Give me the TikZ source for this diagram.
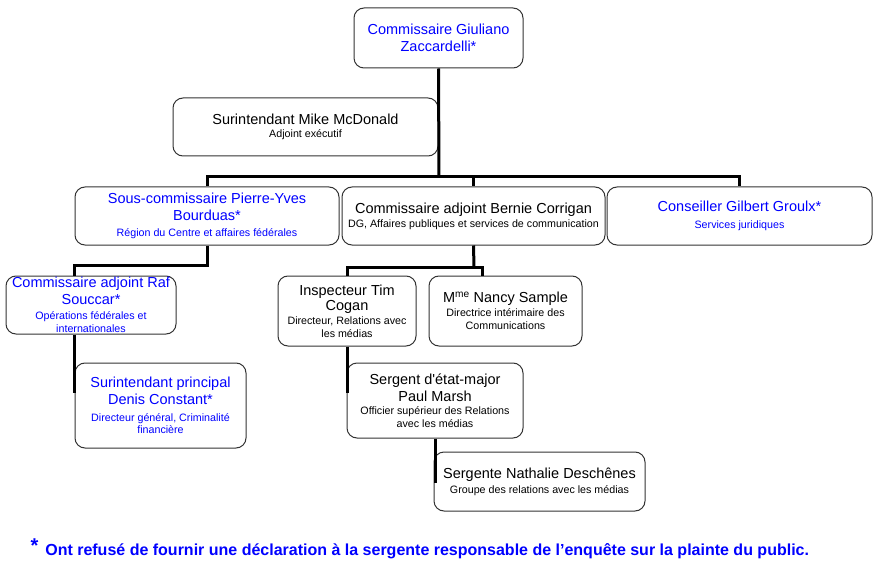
\documentclass[tikz,border=0pt]{standalone}
\usepackage{fontspec}
\setmainfont{Liberation Sans}
\usepackage{tikz}

\newcommand{\sous}[1]{{\fontsize{10.7}{13}\selectfont #1}}

\begin{document}
\begin{tikzpicture}[x=1pt, y=-1pt,
        box/.style={draw=black!80, line width=1pt, fill=white, rounded corners=10pt,
            align=center, inner sep=0pt, font=\fontsize{14.5}{17}\selectfont},
        bleu/.style={text=blue},
        link/.style={line width=3pt}]
        \useasboundingbox (0,0) rectangle (880,564);

        % Direction
        \node[box, bleu, minimum width=169, minimum height=60] (top) at (438.5,38)
            {Commissaire Giuliano\\Zaccardelli*};
        \node[box, minimum width=265, minimum height=58] (mcd) at (305.5,127)
            {Surintendant Mike McDonald\\[-4pt]\sous{Adjoint exécutif}};

        % Deuxième niveau
        \node[box, bleu, minimum width=264, minimum height=58] (bourduas) at (207,216)
            {Sous-commissaire Pierre-Yves\\Bourduas*\\[-1pt]\sous{Région du Centre et affaires fédérales}};
        \node[box, minimum width=263, minimum height=58] (corrigan) at (473.5,216)
            {Commissaire adjoint Bernie Corrigan\\[-3pt]\sous{DG, Affaires publiques et services de communication}};
        \node[box, bleu, minimum width=265, minimum height=58] (groulx) at (739.5,216)
            {Conseiller Gilbert Groulx*\\\sous{Services juridiques}};

        % Branche Bourduas
        \node[box, bleu, minimum width=170, minimum height=58] (souccar) at (91,305)
            {Commissaire adjoint Raf\\Souccar*\\[-2pt]\sous{Opérations fédérales et}\\[-4pt]\sous{internationales}};
        \node[box, bleu, minimum width=171, minimum height=85] (constant) at (160.5,405.5)
            {Surintendant principal\\Denis Constant*\\\sous{Directeur général, Criminalité}\\[-5pt]\sous{financière}};

        % Branche Corrigan
        \node[box, minimum width=138, minimum height=70] (cogan) at (347,311)
            {Inspecteur Tim\\[-2pt]Cogan\\[-3pt]\sous{Directeur, Relations avec}\\[-4pt]\sous{les médias}};
        \node[box, minimum width=153, minimum height=70] (sample) at (505.5,311)
            {M\textsuperscript{me} Nancy Sample\\[-3pt]\sous{Directrice intérimaire des}\\[-4pt]\sous{Communications}};
        \node[box, minimum width=176, minimum height=75] (marsh) at (435,400.5)
            {Sergent d\textquotesingle état-major\\Paul Marsh\\[-4pt]\sous{Officier supérieur des Relations}\\[-4pt]\sous{avec les médias}};
        \node[box, minimum width=211, minimum height=59] (deschenes) at (539.5,481.5)
            {Sergente Nathalie Deschênes\\[-2pt]\sous{Groupe des relations avec les médias}};

        % Liaisons
        \coordinate (bus) at (439,177);
        \coordinate (bA) at (74,265);
        \coordinate (kA) at (74,393);
        \coordinate (cA) at (474,267);
        \coordinate (cB) at (482,267);
        \coordinate (mA) at (347,393);
        \coordinate (dA) at (435,483);
        \draw[link] (top.south) -- (bus);
        \draw[link] (bourduas.north) |- (bus) -| (groulx.north);
        \draw[link] (bus -| corrigan.north) -- (corrigan.north);
        \draw[link] (bourduas.south) |- (bA) -- (bA |- souccar.north);
        \draw[link] (kA |- souccar.south) -- (kA);
        \draw[link] (corrigan.south) -- (cA);
        \draw[link] (cogan.north) |- (cB) -- (cB |- sample.north);
        \draw[link] (cogan.south) -- (mA);
        \draw[link] (marsh.south) -- (dA);

        % Note
        \node[anchor=west, text=blue, font=\bfseries\fontsize{16}{18}\selectfont] (note) at (27,549)
            {\raisebox{3pt}{\fontsize{20}{20}\selectfont *}\hspace{7pt}Ont refusé de fournir une déclaration à la sergente responsable de l’enquête sur la plainte du public.};
    \end{tikzpicture}
\end{document}
